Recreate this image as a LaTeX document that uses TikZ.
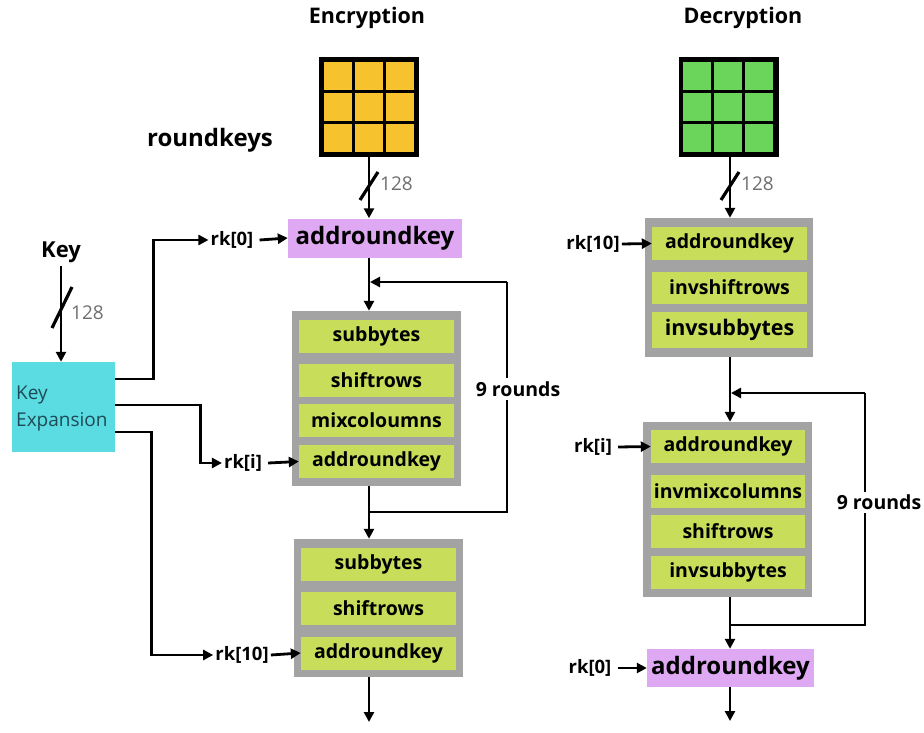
\documentclass[tikz,border=0pt]{standalone}
\usepackage{fontspec}
\setmainfont{Open Sans}
\usetikzlibrary{arrows.meta,calc}

\definecolor{graybox}{HTML}{A3A3A3}
\definecolor{stepgreen}{HTML}{C8DD5A}
\definecolor{keypurple}{HTML}{DFA8F2}
\definecolor{expcyan}{HTML}{5ADCE2}
\definecolor{cellyellow}{HTML}{F6C22D}
\definecolor{cellgreen}{HTML}{6BD55B}
\definecolor{bitgray}{HTML}{6F6F6F}
\definecolor{exptext}{HTML}{1E4A55}

\tikzset{
  arr/.style={line width=2.8pt,-{Triangle[length=10pt,width=10pt]}},
  wire/.style={line width=2.8pt},
  slashmark/.style={line width=3.2pt},
  roundbox/.style={fill=graybox,draw=none,minimum width=169pt,inner sep=0pt},
  stepbox/.style={fill=stepgreen,draw=none,minimum width=155pt,minimum height=33pt,inner sep=0pt,
    font=\fontsize{19.5}{21}\selectfont\bfseries},
  ardbox/.style={fill=keypurple,draw=none,minimum height=39pt,inner sep=0pt,
    font=\fontsize{24}{26}\selectfont\bfseries},
  rklabel/.style={font=\fontsize{18.5}{20}\selectfont\bfseries,inner sep=2pt},
  title/.style={font=\fontsize{21.5}{23}\selectfont\bfseries},
  bits/.style={font=\fontsize{19}{21}\selectfont,text=bitgray,inner sep=0pt},
  rounds/.style={font=\fontsize{19.5}{21}\selectfont\bfseries,fill=white,inner sep=3pt},
  grid/.style={fill=black,minimum size=100pt,inner sep=0pt},
}

\begin{document}
\begin{tikzpicture}[x=1pt,y=-1pt]
\useasboundingbox (0,0) rectangle (924,733);

% flow columns
\coordinate (xenc) at (369,0);
\coordinate (xdec) at (730,0);

% ---------------- titles ----------------
\node[title] (enctitle) at (367,18) {Encryption};
\node[title] (dectitle) at (743,18) {Decryption};
\node[font=\fontsize{24}{26}\selectfont\bfseries] (rktitle) at (210,140) {roundkeys};

% ---------------- state grids ----------------
\node[grid] (encgrid) at (369,107) {};
\node[grid] (decgrid) at (728.5,107) {};
\foreach \g/\c in {encgrid/cellyellow,decgrid/cellgreen}{
  \foreach \i in {0,1,2}{
    \foreach \j in {0,1,2}{
      \fill[\c] ($(\g.north west)+(5+\i*31,5+\j*31)$) rectangle ++(28,28);
    }
  }
}

% ---------------- encryption ----------------
\node[ardbox,minimum width=174pt] (encark) at (375,238) {addroundkey};

\node[roundbox,minimum height=175pt] (er1) at (376.5,398.5) {};
\node[stepbox] (er1sub) at (376.5,336.5) {subbytes};
\node[stepbox] (er1shift) at (376.5,380) {shiftrows};
\node[stepbox] (er1mix) at (376.5,420.5) {mixcoloumns};
\node[stepbox] (er1ark) at (376.5,461.5) {addroundkey};

\node[roundbox,minimum height=138pt] (er2) at (378.5,608) {};
\node[stepbox] (er2sub) at (378.5,564) {subbytes};
\node[stepbox] (er2shift) at (378.5,608) {shiftrows};
\node[stepbox] (er2ark) at (378.5,653) {addroundkey};

\coordinate (encout) at (369,722);
\coordinate (encjoin) at (369,512);
\coordinate (encback) at (369,282);

\draw[arr] (encgrid.south) -- (encark.north -| xenc);
\draw[slashmark] (360,200) -- (378,172);
\node[bits,anchor=west] (encbits) at (380,184) {128};
\draw[arr] (encark.south -| xenc) -- (er1.north -| xenc);
\draw[arr] (er1.south -| xenc) -- (er2.north -| xenc);
\draw[arr] (er2.south -| xenc) -- (encout);
\draw[wire] (encjoin) -- (507,512) -- (507,282);
\draw[arr] (507,282) -- ([xshift=1pt]encback);
\node[rounds] (encrounds) at (518,389) {9 rounds};

% ---------------- key schedule ----------------
\node[font=\fontsize{22}{24}\selectfont\bfseries] (key) at (61,252) {Key};
\node[fill=expcyan,minimum width=103pt,minimum height=90pt,inner sep=0pt] (kexp) at (63.5,407) {};
\node[anchor=west,align=left,text=exptext,font=\fontsize{19}{27}\selectfont,inner sep=0pt] (kexptext) at (16,408) {Key\\Expansion};
\draw[arr] (key.south) -- (kexp.north -| key);
\draw[slashmark] (52,328) -- (72,287);
\node[bits,anchor=west] (keybits) at (71,313) {128};

\node[rklabel] (rk0e) at (232,240) {rk[0]};
\node[rklabel] (rkie) at (243,463) {rk[i]};
\node[rklabel] (rk10e) at (242,655) {rk[10]};

\draw[arr] ([yshift=28pt]kexp.east) -- ++(38,0) |- (rk0e.west);
\draw[arr] ([yshift=2pt]kexp.east) -- ++(85,0) |- (rkie.west);
\draw[arr] ([yshift=-25pt]kexp.east) -- ++(36,0) |- (rk10e.west);
\draw[arr] (rk0e.east) ++(4,0) -- (encark.west);
\draw[arr] (rkie.east) ++(4,0) -- (er1ark.west);
\draw[arr] (rk10e.east) -- (er2ark.west);

% ---------------- decryption ----------------
\node[roundbox,minimum width=168pt,minimum height=139pt] (dr1) at (729,287.5) {};
\node[stepbox,minimum width=155pt] (dr1ark) at (729.5,243.5) {addroundkey};
\node[stepbox,minimum width=155pt,minimum height=32pt] (dr1shift) at (729.5,287.5) {invshiftrows};
\node[stepbox,minimum width=155pt,minimum height=36pt,font=\fontsize{21.5}{23}\selectfont\bfseries] (dr1sub) at (729.5,330) {invsubbytes};

\node[roundbox,minimum height=175pt] (dr2) at (727.5,509.5) {};
\node[stepbox,minimum width=154pt] (dr2ark) at (728,446.5) {addroundkey};
\node[stepbox,minimum width=154pt] (dr2mix) at (728,491) {invmixcolumns};
\node[stepbox,minimum width=154pt] (dr2shift) at (728,531) {shiftrows};
\node[stepbox,minimum width=154pt] (dr2sub) at (728,572) {invsubbytes};

\node[ardbox,minimum width=167pt,minimum height=38pt] (decark) at (730.5,668) {addroundkey};

\coordinate (decout) at (730,721);
\coordinate (decjoin) at (730,625);
\coordinate (decback) at (730,393);

\draw[arr] (decgrid.south -| xdec) -- (dr1.north -| xdec);
\draw[slashmark] (721,200) -- (739,172);
\node[bits,anchor=west] (decbits) at (741,184) {128};
\draw[arr] (dr1.south -| xdec) -- (dr2.north -| xdec);
\draw[arr] (dr2.south -| xdec) -- (decark.north -| xdec);
\draw[arr] (decark.south -| xdec) -- (decout);
\draw[wire] (decjoin) -- (865,625) -- (865,393);
\draw[arr] (865,393) -- ([xshift=1pt]decback);
\node[rounds] (decrounds) at (879,502) {9 rounds};

\node[rklabel] (rk10d) at (593,244) {rk[10]};
\node[rklabel] (rkid) at (593,447) {rk[i]};
\node[rklabel] (rk0d) at (590,668) {rk[0]};
\draw[arr] (rk10d.east) -- (dr1ark.west);
\draw[arr] (rkid.east) ++(4,0) -- (dr2ark.west);
\draw[arr] (rk0d.east) ++(4,0) -- (decark.west);
\end{tikzpicture}
\end{document}
